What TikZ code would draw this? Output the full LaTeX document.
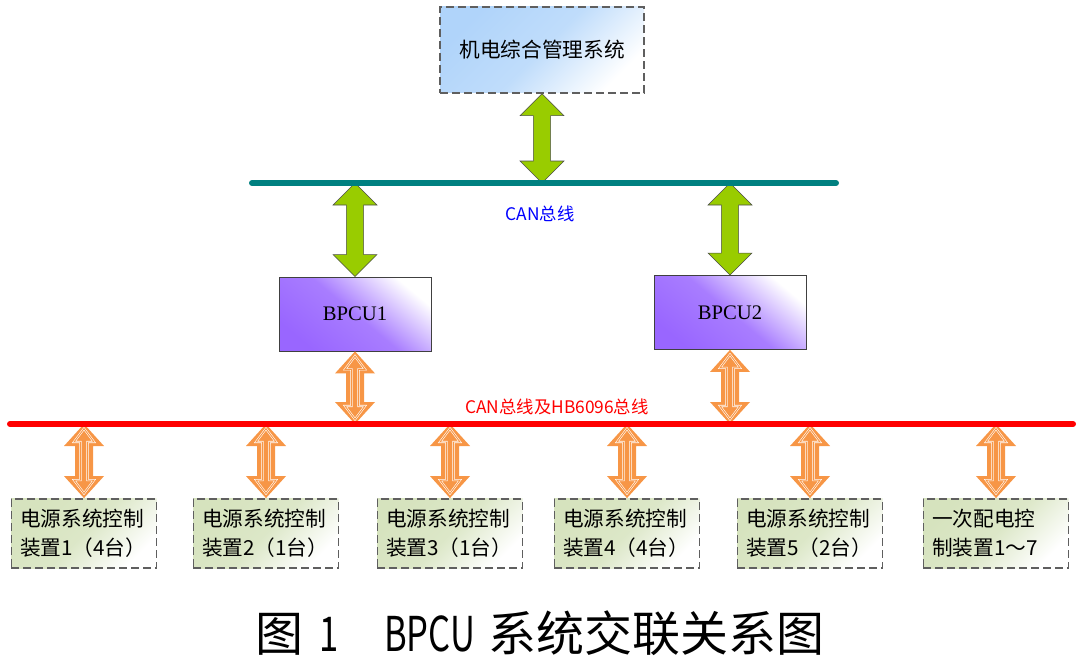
\documentclass[tikz,border=0pt]{standalone}
\usepackage{fontspec}
\setmainfont{Liberation Serif}
\newfontfamily\cjk{Noto Sans CJK SC}
\usepackage{tikz}
\usetikzlibrary{calc}

\definecolor{busteal}{RGB}{0,128,128}
\definecolor{arrgreen}{RGB}{153,204,0}
\definecolor{arrorange}{RGB}{247,150,70}
\definecolor{misblue}{RGB}{176,212,250}
\definecolor{cupurple}{RGB}{153,102,255}
\definecolor{devgreen}{RGB}{214,227,190}
\definecolor{dashgray}{RGB}{95,95,95}

% block arrow: style, top point, bottom point, half head, half shaft, head length, tip inset
\newcommand{\dblarrow}[7]{%
  \path[#1] let \p1=#2, \p2=#3 in
    (\x1,{\y1-#7}) -- ({\x1+#4},{\y1-#7-#6}) -- ({\x1+#5},{\y1-#7-#6})
    -- ({\x1+#5},{\y2+#7+#6}) -- ({\x1+#4},{\y2+#7+#6}) -- (\x1,{\y2+#7})
    -- ({\x1-#4},{\y2+#7+#6}) -- ({\x1-#5},{\y2+#7+#6})
    -- ({\x1-#5},{\y1-#7-#6}) -- ({\x1-#4},{\y1-#7-#6}) -- cycle;}
\newcommand{\grarrow}[2]{\dblarrow{grarr}{#1}{#2}{16.5pt}{6.4pt}{16.5pt}{0pt}}
\newcommand{\orarrow}[2]{%
  \dblarrow{orfill}{#1}{#2}{15pt}{6.75pt}{16.5pt}{0pt}
  \dblarrow{orline}{#1}{#2}{7.5pt}{2.6pt}{10pt}{3.5pt}}

\tikzset{
  cjktext/.style={font=\cjk\fontsize{15.5pt}{21.75pt}\selectfont},
  misbox/.style={draw=dashgray, line width=1.1pt, dash pattern=on 6pt off 3pt,
    top color=misblue, bottom color=white, middle color=misblue!80!white, shading angle=45,
    minimum width=153pt, minimum height=64.5pt, inner sep=0pt, cjktext},
  cubox/.style={draw=black!75, line width=0.6pt,
    top color=white, bottom color=cupurple, middle color=cupurple!85!white, shading angle=-40,
    minimum width=114pt, minimum height=55.5pt, inner sep=0pt, font=\fontsize{15.5pt}{18pt}\selectfont},
  devbox/.style={draw=dashgray, line width=1.1pt, dash pattern=on 6pt off 3pt,
    top color=devgreen, bottom color=white, middle color=devgreen!85!white, shading angle=45,
    text width=96pt, align=left, inner xsep=6.5pt, inner ysep=0pt, minimum height=52pt, cjktext},
  grarr/.style={fill=arrgreen, draw=black!70, line width=0.4pt},
  orfill/.style={fill=arrorange},
  orline/.style={draw=white, double=arrorange, double distance=0.7pt, line width=0.45pt},
  buslbl/.style={font=\cjk\fontsize{13pt}{15pt}\selectfont},
}

\begin{document}
\begin{tikzpicture}[x=0.75pt,y=-0.75pt]
\useasboundingbox (0,0) rectangle (1080,663);

% boxes
\node[misbox] (mis) at (542,50) {机电综合管理系统};
\node[cubox] (cu1) at (355,314) {BPCU1};
\node[cubox] (cu2) at (730,312.5) {BPCU2};
\foreach \i/\x/\t in {1/84/{电源系统控制\\装置1（4台）},2/266/{电源系统控制\\装置2（1台）},
  3/450/{电源系统控制\\装置3（1台）},4/627/{电源系统控制\\装置4（4台）},
  5/810/{电源系统控制\\装置5（2台）},6/996/{一次配电控\\制装置1～7}}
{ \node[devbox] (dev\i) at (\x,533.5) {\t}; }

% bus ends
\coordinate (canL) at (252,183);
\coordinate (canR) at (836,183);
\coordinate (redL) at (10,424);
\coordinate (redR) at (1073,424);

% arrows
\grarrow{(mis.south)}{(mis.south |- canL)}
\grarrow{(cu1.north |- canL)}{(cu1.north)}
\grarrow{(cu2.north |- canL)}{(cu2.north)}
\orarrow{(cu1.south)}{(cu1.south |- redL)}
\orarrow{(cu2.south)}{(cu2.south |- redL)}
\foreach \i in {1,...,6}{ \orarrow{(dev\i.north |- redL)}{(dev\i.north)} }

% buses
\draw[busteal, line width=4.5pt, line cap=round] (canL) -- (canR);
\draw[red, line width=4.5pt, line cap=round] (redL) -- (redR);
\node[buslbl, text=blue] (canlbl) at (540,214) {CAN总线};
\node[buslbl, text=red] (redlbl) at (557,407) {CAN总线及HB6096总线};

% caption
\node[font=\cjk\fontsize{36pt}{40pt}\selectfont] (cap) at (540,633)
  {图\hspace{12pt}\scalebox{0.72}[1]{1}\hspace{34pt}\scalebox{0.72}[1]{BPCU}\hspace{10pt}系统交联关系图};
\end{tikzpicture}
\end{document}
